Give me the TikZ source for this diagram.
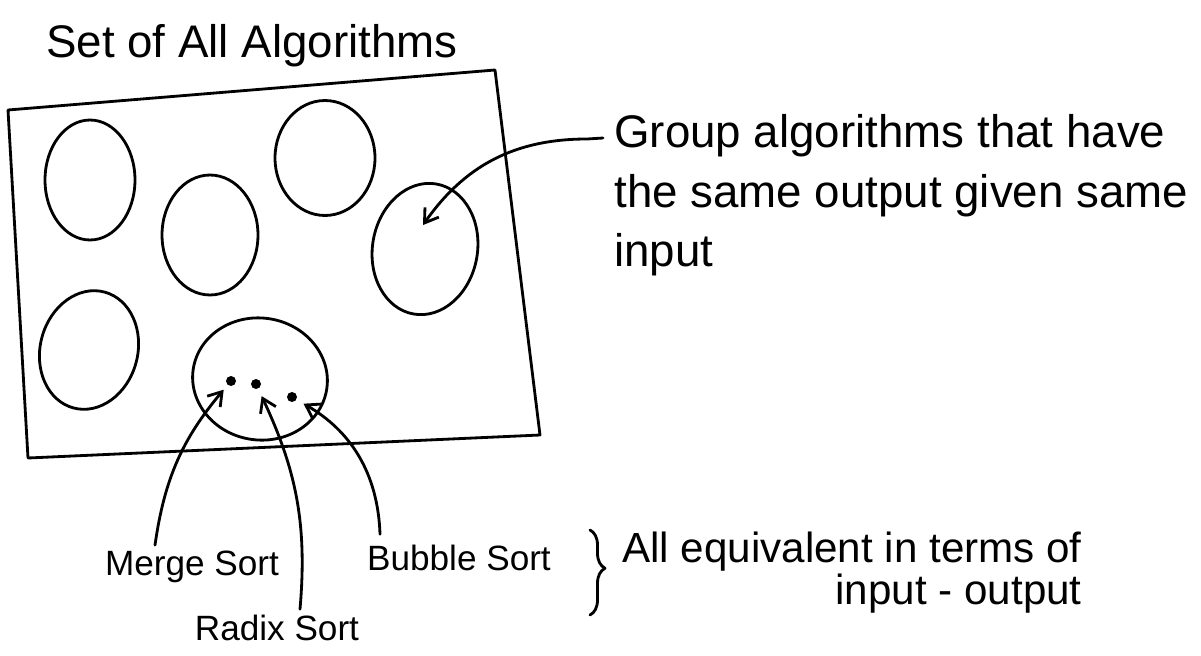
\documentclass[tikz,border=0pt]{standalone}
\usepackage{fontspec}
\setmainfont{Liberation Sans}
\usetikzlibrary{arrows.meta, shapes.geometric, decorations.pathreplacing}
\tikzset{
  pen/.style={line width=1.6pt, black, line cap=round, line join=round},
  blob/.style={pen, draw, ellipse, inner sep=0pt},
  dot/.style={circle, fill=black, inner sep=0pt, minimum size=2mm},
  ar/.style={pen, -{Straight Barb[length=2.6mm, width=3.4mm, line width=1.6pt]}},
  big/.style={font=\fontsize{26}{32}\selectfont, inner sep=0pt},
  lbl/.style={font=\fontsize{20}{22}\selectfont, inner sep=0pt},
  note/.style={font=\fontsize{24}{19}\selectfont, inner sep=0pt},
}

\begin{document}
\begin{tikzpicture}[x=0.02cm, y=-0.02cm]
  \useasboundingbox (0,0) rectangle (1201,656);

  % --- outer set ---
  \node[big, anchor=base] (title) at (252,57) {Set of All Algorithms};
  \coordinate (tl) at (8,110);
  \coordinate (tr) at (495,70);
  \coordinate (br) at (540,435);
  \coordinate (bl) at (28,458);
  \draw[pen] (tl) -- (tr) -- (br) -- (bl) -- cycle;

  % --- groups ---
  \node[blob, minimum width=1.8cm, minimum height=2.4cm] (e1) at (90,180) {};
  \node[blob, minimum width=1.92cm, minimum height=2.4cm] (e2) at (210,235) {};
  \node[blob, minimum width=2cm, minimum height=2.3cm] (e3) at (325,158) {};
  \node[blob, minimum width=2.1cm, minimum height=2.64cm, rotate=-10] (e4) at (425,249) {};
  \node[blob, minimum width=1.95cm, minimum height=2.4cm, rotate=-15] (e5) at (89,350) {};
  \node[blob, minimum width=2.7cm, minimum height=2.44cm, rotate=-8] (e6) at (260,379) {};

  % --- members of one group ---
  \node[dot] (d1) at (231,381) {};
  \node[dot] (d2) at (256,384) {};
  \node[dot] (d3) at (292,397) {};

  % --- labels ---
  \node[big, anchor=north west, align=left, font=\fontsize{26}{34}\selectfont] (grp) at (614,114)
       {Group algorithms that have\\the same output given same\\input};
  \coordinate (grpstart) at (603,138);
  \coordinate (grptip) at (423,225);
  \node[lbl, anchor=base] (merge) at (192,575) {Merge Sort};
  \node[lbl, anchor=base] (radix) at (277,640) {Radix Sort};
  \node[lbl, anchor=base] (bubble) at (459,570) {Bubble Sort};
  \node[note, anchor=base west, align=right] (equiv) at (622,604)
       {All equivalent in terms of\\input - output};

  % --- arrows ---
  \draw[ar] (grpstart) -- ++(-16,1) to[out=180, in=55] (grptip);
  \draw[ar, shorten >=1.2mm] ([xshift=-0.74cm, yshift=0.1cm]merge.north) to[out=82, in=230] (d1);
  \draw[ar, shorten >=1.6mm] ([xshift=0.46cm, yshift=0.1cm]radix.north) to[out=85, in=295] (d2);
  \draw[ar, shorten >=1.6mm] ([xshift=-1.58cm, yshift=0.2cm]bubble.north) to[out=92, in=330] (d3);

  % --- brace ---
  \draw[pen, decorate, decoration={brace, amplitude=3mm, aspect=0.45}] (590,530) -- (590,615);

\end{tikzpicture}
\end{document}
